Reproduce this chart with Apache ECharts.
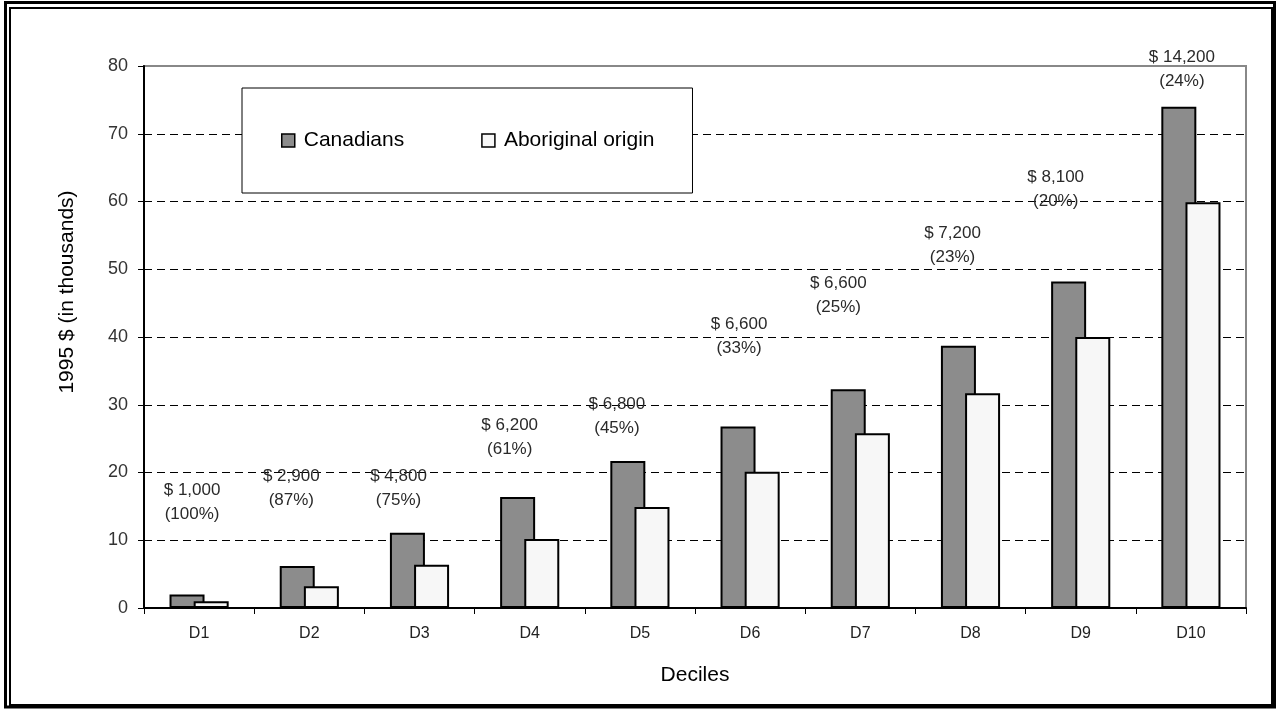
<!DOCTYPE html>
<html>
<head>
<meta charset="utf-8">
<script src="https://cdn.jsdelivr.net/npm/echarts@6/dist/echarts.min.js"></script>
<style>
html,body{margin:0;padding:0;background:#fff;}
#chart{width:1278px;height:709px;}
</style>
</head>
<body>
<div id="chart"></div>
<script>
// ---- data ----
const categories = ['D1','D2','D3','D4','D5','D6','D7','D8','D9','D10'];
const canadians  = [2.0, 6.2, 11.1, 16.4, 21.7, 26.8, 32.3, 38.7, 48.2, 74.0];
const aboriginal = [1.0, 3.2, 6.4, 10.2, 14.9, 20.1, 25.8, 31.7, 40.0, 59.9];
const gapDollars = [1000, 2900, 4800, 6200, 6800, 6600, 6600, 7200, 8100, 14200];
const gapPercent = [100, 87, 75, 61, 45, 33, 25, 23, 20, 24];
const yTicks = [0, 10, 20, 30, 40, 50, 60, 70, 80];

// annotation layout: anchor heights (axis units) and horizontal nudges (px)
const annotationY  = [15.6, 17.6, 17.6, 25.2, 28.3, 40.1, 46.2, 53.6, 61.8, 79.5];
const annotationDx = [-7, -18, -21, -20, -23, -11, -22, -18, -25, -9];

const chart = echarts.init(document.getElementById('chart'), null, {renderer:'canvas'});
const FONT = '"Liberation Sans", Arial, sans-serif';

const option = {
  animation: false,
  backgroundColor: '#fff',
  textStyle: {fontFamily: FONT},
  graphic: [
    {type:'rect', shape:{x:5.5, y:2.5, width:1269, height:704.5}, style:{fill:'none', stroke:'#000', lineWidth:3}, z:100},
    {type:'rect', shape:{x:10, y:8, width:1262, height:697}, style:{fill:'none', stroke:'#000', lineWidth:2}, z:100},
    {type:'text', x:67, y:292, rotation: Math.PI/2,
      style:{text:'1995 $ (in thousands)', fontFamily: FONT, fontSize: 21, fill:'#000',
        textAlign:'center', textVerticalAlign:'middle', align:'center', verticalAlign:'middle'}, z:50}
  ],
  grid: {
    left: 144, right: 32, top: 66, bottom: 101,
    show: true, borderColor: '#888', borderWidth: 2, backgroundColor: 'transparent'
  },
  legend: {
    data: ['Canadians', 'Aboriginal origin'],
    left: 242, top: 88,
    orient: 'horizontal',
    backgroundColor: '#fff',
    borderColor: '#000', borderWidth: 1,
    padding: [42, 38, 42, 39],
    itemGap: 77,
    itemWidth: 13, itemHeight: 13,
    icon: 'rect',
    itemStyle: {borderColor:'#000', borderWidth:1.5},
    textStyle: {fontFamily: FONT, fontSize: 21, color: '#000', padding:[0,0,0,4]}
  },
  xAxis: {
    type: 'category',
    data: categories,
    axisLine: {show:true, lineStyle:{color:'#000', width:2}},
    axisTick: {show:true, length:6, lineStyle:{color:'#000', width:1}},
    axisLabel: {fontFamily: FONT, fontSize: 16, color: '#222', margin: 18},
    name: 'Deciles',
    nameLocation: 'middle',
    nameGap: 57,
    nameTextStyle: {fontFamily: FONT, fontSize: 21, color: '#000'}
  },
  yAxis: {
    type: 'value',
    min: 0, max: 80, interval: 10,
    axisLine: {show:true, lineStyle:{color:'#000', width:2}},
    axisTick: {show:true, length:6, lineStyle:{color:'#000', width:1}},
    axisLabel: {fontFamily: FONT, fontSize: 18, color: '#333', margin: 16,
      formatter: v => yTicks.includes(v) ? String(v) : ''},
    splitLine: {show:true, showMinLine:false, showMaxLine:false,
      lineStyle:{color:'#000', width:1, type:[8,5]}}
  },
  series: [
    {
      name: 'Canadians',
      type: 'bar',
      data: canadians,
      barWidth: 35,
      barGap: '-31%',
      itemStyle: {color:'#8c8c8c', borderColor:'#000', borderWidth:2},
      z: 3
    },
    {
      name: 'Aboriginal origin',
      type: 'bar',
      data: aboriginal,
      barWidth: 35,
      itemStyle: {color:'#f7f7f7', borderColor:'#000', borderWidth:2},
      z: 3
    },
    {
      name: 'gap',
      type: 'scatter',
      data: annotationY.map((y, i) => [i, y]),
      symbolSize: 0.01,
      itemStyle: {color: '#fff', opacity: 1},
      silent: true,
      z: 10,
      label: {
        show: true,
        position: 'inside',
        opacity: 1,
        offset: 0,
        fontFamily: FONT,
        fontSize: 17,
        lineHeight: 24,
        color: '#2a2a2a',
        formatter: p => '$ ' + gapDollars[p.dataIndex].toLocaleString('en-US') +
                        '\n(' + gapPercent[p.dataIndex] + '%)'
      },
      labelLayout: p => ({dx: annotationDx[p.dataIndex]})
    }
  ]
};
chart.setOption(option);
</script>
</body>
</html>
